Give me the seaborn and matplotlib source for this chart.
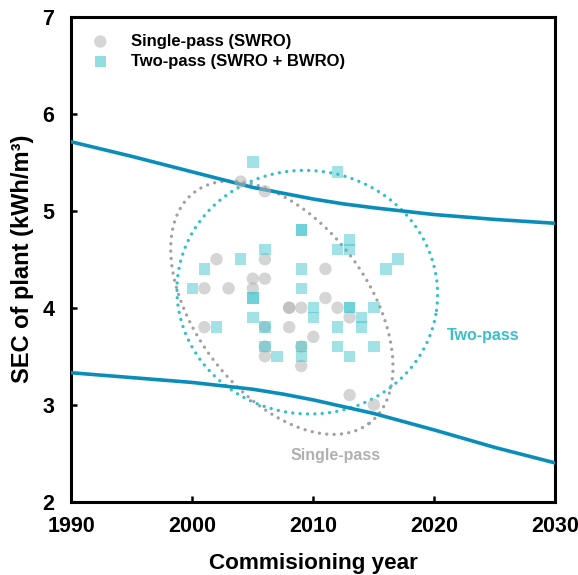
import numpy as np
import pandas as pd
import matplotlib
matplotlib.use("Agg")
import matplotlib.pyplot as plt
import seaborn as sns

# ---- data ----
single_year = [2004, 2006, 2002, 2006, 2001, 2003, 2005, 2006, 2005, 2011, 2011, 2008, 2008,
               2009, 2012, 2013, 2001, 2006, 2008, 2010, 2006, 2009, 2006, 2009, 2013, 2015]
single_sec = [5.3, 5.2, 4.5, 4.5, 4.2, 4.2, 4.3, 4.3, 4.2, 4.4, 4.1, 4.0, 4.0,
              4.0, 4.0, 3.9, 3.8, 3.8, 3.8, 3.7, 3.6, 3.6, 3.5, 3.4, 3.1, 3.0]

two_year = [2005, 2012, 2009, 2009, 2013, 2012, 2013, 2006, 2004, 2017, 2001, 2009, 2016,
            2000, 2009, 2005, 2005, 2010, 2013, 2013, 2015, 2005, 2010, 2014, 2002, 2012,
            2014, 2006, 2006, 2012, 2015, 2007, 2013, 2009, 2009]
two_sec = [5.5, 5.4, 4.8, 4.8, 4.7, 4.6, 4.6, 4.6, 4.5, 4.5, 4.4, 4.4, 4.4,
           4.2, 4.2, 4.1, 4.1, 4.0, 4.0, 4.0, 4.0, 3.9, 3.9, 3.9, 3.8, 3.8,
           3.8, 3.8, 3.6, 3.6, 3.6, 3.5, 3.5, 3.6, 3.5]

trend_year = [1990, 1992.5, 1995, 1997.5, 2000, 2002.5, 2005, 2007.5, 2010, 2012.5,
              2015, 2017.5, 2020, 2022.5, 2025, 2027.5, 2030]
upper_sec = [5.71, 5.635, 5.56, 5.48, 5.40, 5.32, 5.24, 5.18, 5.12, 5.07,
             5.03, 4.995, 4.96, 4.935, 4.91, 4.89, 4.87]
lower_sec = [3.33, 3.305, 3.28, 3.255, 3.23, 3.195, 3.16, 3.11, 3.05, 2.98,
             2.91, 2.825, 2.74, 2.65, 2.56, 2.48, 2.40]

# ellipse parameters: centre (year, SEC), semi-axes (in year-equivalent screen units), tilt (deg)
single_ell = dict(cx=2007.4, cy=4.0, a=11.97, b=7.11, angle=-52.9)
two_ell = dict(cx=2009.5, cy=4.16, a=10.78, b=10.05, angle=-8.0)

x_ticks = [1990, 2000, 2010, 2020, 2030]
y_ticks = [2, 3, 4, 5, 6, 7]

# ---- styling ----
sns.set_theme(style="white")
plt.rcParams['font.family'] = ['Liberation Sans', 'DejaVu Sans']
plt.rcParams['font.weight'] = 'bold'
plt.rcParams['text.color'] = 'black'
plt.rcParams['axes.labelcolor'] = 'black'

grey = '#b3b3b3'
teal = '#35c3ca'
line_c = '#0a8dbb'
grey_dot = '#a39fa2'
teal_dot = '#2fc0cb'

fig = plt.figure(figsize=(5.78, 5.75), dpi=100)
ax = fig.add_axes([0.1232, 0.1273, 0.8378, 0.8438])

ax.set_xlim(1990, 2030)
ax.set_ylim(2, 7)

# screen aspect: years per SEC unit
k = (97.0) / (12.1)

def draw_ellipse(p, color):
    t = np.linspace(0, 2 * np.pi, 400)
    th = np.deg2rad(p['angle'])
    xs = p['a'] * np.cos(t) * np.cos(th) - p['b'] * np.sin(t) * np.sin(th)
    ys = p['a'] * np.cos(t) * np.sin(th) + p['b'] * np.sin(t) * np.cos(th)
    ax.plot(p['cx'] + xs, p['cy'] + ys / k, color=color, lw=2.4,
            linestyle=(0, (0.01, 2.2)), dash_capstyle='round', zorder=2)

draw_ellipse(single_ell, grey_dot)
draw_ellipse(two_ell, teal_dot)

sns.lineplot(x=trend_year, y=upper_sec, ax=ax, color=line_c, lw=2.6, zorder=3)
sns.lineplot(x=trend_year, y=lower_sec, ax=ax, color=line_c, lw=2.6, zorder=3)

sns.scatterplot(x=single_year, y=single_sec, ax=ax, marker='o', s=80, color=grey,
                alpha=0.55, edgecolor='none', zorder=4, label='Single-pass (SWRO)')
sns.scatterplot(x=two_year, y=two_sec, ax=ax, marker='s', s=68, color=teal,
                alpha=0.47, edgecolor='none', zorder=5, label='Two-pass (SWRO + BWRO)')

leg = ax.legend(loc='upper left', bbox_to_anchor=(0.005, 0.985), frameon=False,
                prop={'weight': 'bold', 'size': 12}, handletextpad=0.85,
                labelspacing=0.3, borderaxespad=0.2)
for h in leg.legend_handles:
    h.set_alpha(0.55)
for t in leg.get_texts():
    t.set_color('black')

ax.text(2024.0, 3.71, 'Two-pass', color='#3bbfc9', fontsize=11.5, fontweight='bold',
        ha='center', va='center')
ax.text(2011.8, 2.48, 'Single-pass', color='#b0b0b0', fontsize=11.5, fontweight='bold',
        ha='center', va='center')

ax.set_xticks(x_ticks)
ax.set_yticks(y_ticks)
ax.set_xticklabels([str(v) for v in x_ticks], fontsize=15.5, fontweight='bold', color='black')
ax.set_yticklabels([str(v) for v in y_ticks], fontsize=15.5, fontweight='bold', color='black')
ax.tick_params(axis='both', direction='in', length=4, width=1.8, colors='black',
               bottom=True, left=True, top=False, right=False)
ax.tick_params(axis='x', pad=10)
ax.tick_params(axis='y', pad=12)

for s in ax.spines.values():
    s.set_visible(True)
    s.set_color('black')
    s.set_linewidth(2.2)

ax.set_xlabel('Commisioning year', fontsize=16.2, fontweight='bold', labelpad=12)
ax.set_ylabel('SEC of plant (kWh/m³)', fontsize=17, fontweight='bold', labelpad=6)

fig.savefig('out.png', dpi=100)
